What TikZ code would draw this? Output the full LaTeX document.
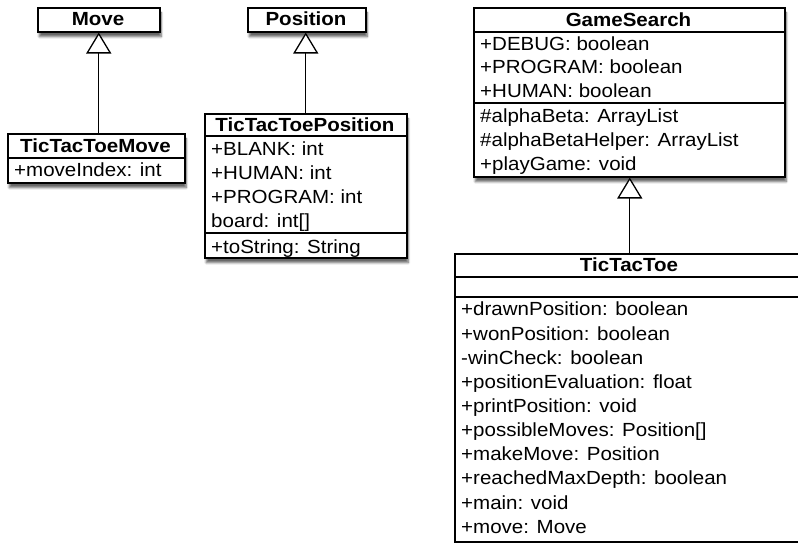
\documentclass[tikz,border=0pt]{standalone}
\usepackage{fontspec}
\setmainfont{Liberation Sans}[FakeStretch=1.08]
\usepackage{tikz}
\usetikzlibrary{arrows.meta,shadows.blur}
\tikzset{
	classbox/.style={draw=black, line width=1.5pt, fill=white, anchor=north west, inner sep=0pt,
		blur shadow={shadow xshift=1.5pt, shadow yshift=-5pt, shadow opacity=60, shadow blur steps=8}},
	classtitle/.style={anchor=base, inner sep=0pt, font=\bfseries\fontsize{19}{21}\selectfont},
	member/.style={anchor=base west, inner sep=0pt, font=\fontsize{19}{21}\selectfont},
	sepline/.style={line width=1.2pt},
	inherit/.style={line width=1.3pt, -{Triangle[open, length=21pt, width=25pt, fill=white]}}
}

\begin{document}
\begin{tikzpicture}[x=1pt, y=-1pt]
		%%%%% START %%%%%
		\useasboundingbox (0, 0) rectangle (798, 542);
		
		% Move
		\node[classbox, minimum width=122pt, minimum height=24pt] (move) at (37, 7) {};
		\node[classtitle] (movetitle) at (98, 25) {Move};
		
		% Position
		\node[classbox, minimum width=118pt, minimum height=24pt] (pos) at (247, 7) {};
		\node[classtitle] (postitle) at (306, 25) {Position};
		
		% TicTacToeMove
		\node[classbox, minimum width=177pt, minimum height=49pt] (tttmove) at (7, 133) {};
		\draw[sepline] (tttmove.west |- 0, 158) -- (tttmove.east |- 0, 158);
		\node[classtitle] (tttmovetitle) at (95.5, 152) {TicTacToeMove};
		\node[member] (moveindex) at (14, 176) {+moveIndex: int};
		
		% TicTacToePosition
		\node[classbox, minimum width=202pt, minimum height=144pt] (tttpos) at (204, 113) {};
		\draw[sepline] (tttpos.west |- 0, 136) -- (tttpos.east |- 0, 136);
		\draw[sepline] (tttpos.west |- 0, 233) -- (tttpos.east |- 0, 233);
		\node[classtitle] (tttpostitle) at (305, 131) {TicTacToePosition};
		\node[member] (blank) at (211, 155) {+BLANK: int};
		\node[member] (poshuman) at (211, 179) {+HUMAN: int};
		\node[member] (posprogram) at (211, 203) {+PROGRAM: int};
		\node[member] (board) at (211, 227) {board: int[]};
		\node[member] (tostring) at (211, 253) {+toString: String};
		
		% GameSearch
		\node[classbox, minimum width=311pt, minimum height=169pt] (gs) at (473, 7) {};
		\draw[sepline] (gs.west |- 0, 32) -- (gs.east |- 0, 32);
		\draw[sepline] (gs.west |- 0, 103) -- (gs.east |- 0, 103);
		\node[classtitle] (gstitle) at (628.5, 26) {GameSearch};
		\node[member] (debug) at (480, 50) {+DEBUG: boolean};
		\node[member] (gsprogram) at (480, 73) {+PROGRAM: boolean};
		\node[member] (gshuman) at (480, 97) {+HUMAN: boolean};
		\node[member] (alphabeta) at (480, 122) {\#alphaBeta: ArrayList};
		\node[member] (alphahelper) at (480, 146) {\#alphaBetaHelper: ArrayList};
		\node[member] (playgame) at (480, 170) {+playGame: void};
		
		% TicTacToe
		\node[classbox, minimum width=350pt, minimum height=288pt] (ttt) at (454, 253) {};
		\draw[sepline] (ttt.west |- 0, 277) -- (ttt.east |- 0, 277);
		\draw[sepline] (ttt.west |- 0, 297) -- (ttt.east |- 0, 297);
		\node[classtitle] (ttttitle) at (629, 271) {TicTacToe};
		\node[member] (drawnpos) at (461, 315) {+drawnPosition: boolean};
		\node[member] (wonpos) at (461, 340) {+wonPosition: boolean};
		\node[member] (wincheck) at (461, 364) {-winCheck: boolean};
		\node[member] (poseval) at (461, 388) {+positionEvaluation: float};
		\node[member] (printpos) at (461, 412) {+printPosition: void};
		\node[member] (possmoves) at (461, 436) {+possibleMoves: Position[]};
		\node[member] (makemove) at (461, 460) {+makeMove: Position};
		\node[member] (maxdepth) at (461, 484) {+reachedMaxDepth: boolean};
		\node[member] (main) at (461, 509) {+main: void};
		\node[member] (movefield) at (461, 533) {+move: Move};
		
		% generalisations
		\draw[inherit] (tttmove.north -| move.south) -- (move.south);
		\draw[inherit] (tttpos.north) -- (tttpos.north |- pos.south);
		\draw[inherit] (ttt.north) -- (ttt.north |- gs.south);
		
		%%%%% END %%%%%
	\end{tikzpicture}
\end{document}
